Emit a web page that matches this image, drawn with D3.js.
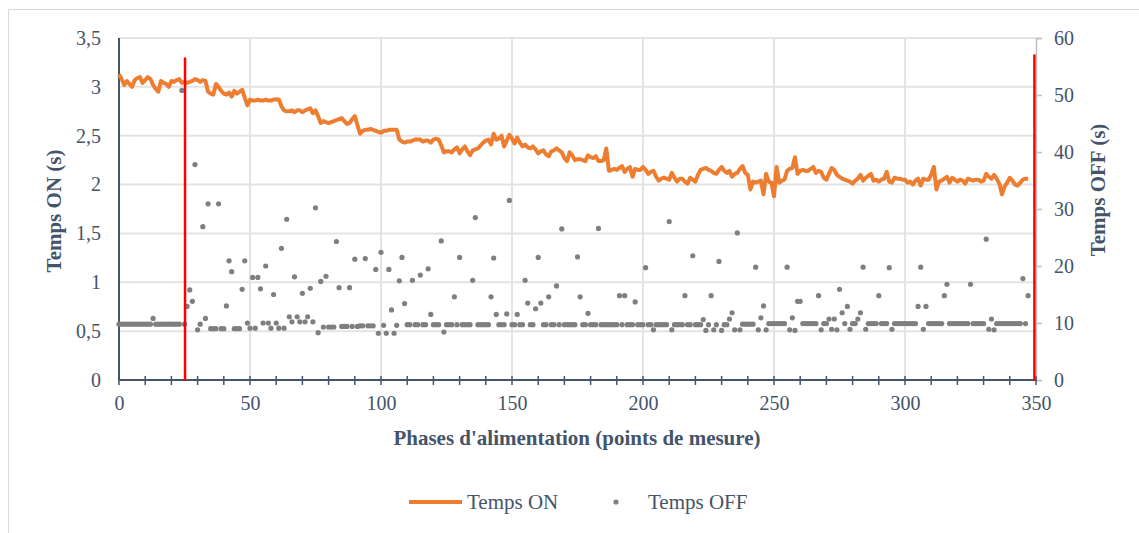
<!DOCTYPE html>
<html lang="fr">
<head>
<meta charset="UTF-8">
<title>Temps ON / Temps OFF</title>
<style>
    body { margin: 0; padding: 0; background: #fff; }
    svg text { font-family: "Liberation Serif", "Times New Roman", serif; fill: #44546A; }
</style>
</head>
<body>
<svg id="chart" width="1139" height="533"></svg>
<script src="https://d3js.org/d3.v7.min.js"></script>
<script>
// Temps ON (s), left axis, one value per feeding phase
var tempsOn = [
    3.13,3.08,3.02,3.06,3.03,3.00,3.07,3.09,3.10,3.04,
    3.07,3.10,3.08,3.02,2.98,2.95,3.06,3.04,3.03,3.00,
    3.06,3.05,3.07,3.08,3.04,3.05,3.04,3.05,3.06,3.08,
    3.07,3.05,3.07,3.06,2.95,2.93,2.92,3.03,3.00,2.96,
    2.93,2.92,2.94,2.90,2.96,2.93,2.95,2.97,2.89,2.81,
    2.87,2.86,2.86,2.87,2.86,2.86,2.87,2.86,2.86,2.87,
    2.87,2.87,2.80,2.76,2.75,2.75,2.76,2.74,2.76,2.76,
    2.74,2.76,2.77,2.78,2.73,2.76,2.70,2.63,2.65,2.64,
    2.63,2.64,2.65,2.66,2.67,2.68,2.65,2.62,2.63,2.67,
    2.70,2.61,2.52,2.55,2.56,2.56,2.57,2.56,2.55,2.54,
    2.53,2.55,2.55,2.56,2.56,2.56,2.56,2.46,2.44,2.43,
    2.44,2.44,2.45,2.46,2.46,2.46,2.44,2.45,2.45,2.43,
    2.46,2.47,2.46,2.40,2.33,2.34,2.34,2.33,2.36,2.38,
    2.32,2.36,2.39,2.34,2.30,2.35,2.36,2.37,2.40,2.43,
    2.45,2.46,2.41,2.52,2.46,2.47,2.50,2.39,2.45,2.51,
    2.47,2.42,2.48,2.43,2.39,2.41,2.38,2.37,2.39,2.36,
    2.32,2.34,2.35,2.31,2.29,2.34,2.35,2.37,2.35,2.33,
    2.27,2.24,2.33,2.30,2.25,2.26,2.26,2.25,2.24,2.30,
    2.28,2.27,2.29,2.24,2.24,2.25,2.37,2.14,2.15,2.16,
    2.15,2.17,2.19,2.13,2.16,2.18,2.08,2.16,2.15,2.15,
    2.18,2.15,2.11,2.13,2.14,2.08,2.04,2.06,2.07,2.06,
    2.05,2.12,2.07,2.03,2.06,2.06,2.03,2.01,2.07,2.05,
    2.03,2.10,2.15,2.16,2.17,2.15,2.14,2.12,2.11,2.15,
    2.18,2.14,2.12,2.14,2.08,2.11,2.12,2.16,2.19,2.12,
    2.10,1.95,2.03,2.02,2.03,2.04,1.90,2.11,2.03,2.02,
    1.88,2.18,2.02,2.04,2.05,2.14,2.16,2.17,2.28,2.11,
    2.14,2.15,2.14,2.14,2.16,2.18,2.12,2.14,2.13,2.07,
    2.05,2.11,2.17,2.15,2.10,2.08,2.06,2.05,2.04,2.03,
    2.01,2.04,2.06,2.10,2.04,2.07,2.09,2.11,2.04,2.05,
    2.03,2.05,2.06,2.13,2.03,2.02,2.07,2.06,2.06,2.05,
    2.05,2.02,2.03,2.00,2.04,2.06,1.99,2.06,2.05,2.05,
    2.10,2.18,1.95,2.03,2.04,2.06,2.08,2.02,2.07,2.05,
    2.03,2.05,2.04,2.01,2.06,2.05,2.04,2.05,2.05,2.03,
    2.04,2.11,2.08,2.06,2.10,2.06,2.01,1.90,1.98,2.02,
    2.07,2.04,2.00,1.99,2.02,2.05,2.06,2.06
];

// Temps OFF (s), right axis
var tempsOff = [
    9.8,9.8,9.8,9.8,9.8,9.8,9.8,9.8,9.8,9.8,
    9.8,9.8,9.8,10.8,9.8,9.8,9.8,9.8,9.8,9.8,
    9.8,9.8,9.8,9.8,50.8,9.8,12.9,15.8,13.8,37.8,
    8.8,9.8,26.9,10.8,30.9,9.0,9.0,9.0,30.9,9.0,
    9.0,13.0,20.9,19.0,9.0,9.0,9.0,15.9,20.9,10.0,
    9.1,18.0,9.1,18.0,16.0,10.0,20.0,10.0,9.1,15.0,
    10.0,9.1,23.1,9.1,28.2,11.1,10.2,18.1,11.1,10.2,
    15.2,10.2,11.1,16.1,10.2,30.2,8.3,17.3,9.3,18.2,
    9.3,9.3,9.3,24.3,16.2,9.4,9.4,9.4,16.2,9.4,
    21.2,9.4,9.5,9.5,21.3,9.5,9.5,9.5,19.4,8.2,
    22.4,9.6,8.2,19.4,12.3,8.2,9.6,17.4,21.5,13.4,
    9.7,9.7,17.5,9.7,9.7,18.4,9.7,9.7,19.5,11.5,
    9.7,9.7,9.7,24.4,8.4,9.7,9.7,9.7,14.6,9.7,
    21.5,9.7,9.7,9.7,9.7,17.5,28.5,9.7,9.7,9.7,
    9.7,9.7,14.6,21.4,11.5,9.7,9.7,9.7,11.6,31.5,
    9.7,9.7,11.5,9.7,9.7,17.5,13.5,9.7,9.7,12.5,
    21.5,13.5,9.7,9.7,14.6,9.7,9.7,16.5,9.7,26.5,
    9.7,9.7,9.7,9.7,9.7,21.6,14.6,9.7,9.7,11.7,
    9.7,9.7,9.7,26.6,9.7,9.7,9.7,9.7,9.7,9.7,
    9.7,14.8,9.7,14.8,9.7,9.7,9.7,13.7,9.7,9.7,
    9.7,19.7,9.7,9.7,8.8,9.7,9.7,9.7,9.7,9.7,
    27.8,8.8,9.7,9.7,9.7,9.7,14.8,9.7,9.7,21.8,
    9.7,9.7,9.7,10.6,8.7,9.7,14.8,8.8,9.7,20.8,
    8.7,9.7,9.7,10.7,11.8,8.8,25.8,8.8,9.8,9.8,
    9.8,9.8,9.8,19.8,8.8,10.9,13.0,8.8,9.9,9.9,
    9.9,9.9,9.9,9.9,9.9,19.8,8.8,10.9,8.7,13.8,
    13.8,9.9,9.9,9.9,9.9,9.9,9.9,14.8,8.8,9.9,
    9.9,10.7,8.9,10.7,8.8,15.9,11.8,9.9,12.9,8.9,
    9.9,9.9,10.7,11.8,19.8,8.9,9.9,9.9,9.9,9.9,
    14.8,9.9,9.9,9.9,19.7,8.9,9.9,9.9,9.9,9.9,
    9.9,9.9,9.9,9.9,9.9,12.9,19.8,8.9,12.9,9.9,
    9.9,9.9,9.9,9.9,9.9,14.8,16.8,9.9,9.9,9.9,
    9.9,9.9,9.9,9.9,9.9,16.8,9.9,9.9,9.9,9.9,
    9.9,24.7,8.9,10.7,8.8,9.9,9.9,9.9,9.9,9.9,
    9.9,9.9,9.9,9.9,9.9,17.8,9.9,14.8
];

// red separators: x position (phase) and top end (in Temps ON units)
var markerX = [25.2, 349.4];
var markerTop = [3.30, 3.33];

var xTicks = [0, 50, 100, 150, 200, 250, 300, 350];
var yLeftTicks = [0, 0.5, 1, 1.5, 2, 2.5, 3, 3.5];
var yRightTicks = [0, 10, 20, 30, 40, 50, 60];

var seriesNames = ["Temps ON", "Temps OFF"];

var svg = d3.select("#chart");

// outer frame
svg.append("rect")
    .attr("x", 8.5).attr("y", 9.5)
    .attr("width", 1140).attr("height", 530)
    .attr("fill", "none")
    .attr("stroke", "#d9d9d9");

var x = d3.scaleLinear().domain([0, 350]).range([119, 1036]);
var yL = d3.scaleLinear().domain([0, 3.5]).range([380, 38]);
var yR = d3.scaleLinear().domain([0, 60]).range([380, 38]);

// grid
svg.append("g").selectAll("line").data(yLeftTicks.slice(1)).enter()
    .append("line")
    .attr("x1", x(0)).attr("x2", x(350))
    .attr("y1", d => yL(d)).attr("y2", d => yL(d))
    .attr("stroke", "#e3e3e3").attr("stroke-width", 2);

svg.append("g").selectAll("line").data(xTicks.slice(1, -1)).enter()
    .append("line")
    .attr("x1", d => x(d)).attr("x2", d => x(d))
    .attr("y1", yL(0)).attr("y2", yL(3.5))
    .attr("stroke", "#e3e3e3").attr("stroke-width", 2);

// right axis (light grey line with outer ticks)
var rightAxis = svg.append("g")
    .attr("transform", "translate(" + x(350) + ",0)")
    .call(d3.axisRight(yR).tickValues(yRightTicks).tickSize(6).tickPadding(12));
rightAxis.select(".domain").attr("stroke", "#bfbfbf").attr("stroke-width", 1.5);
rightAxis.selectAll(".tick line").attr("stroke", "#bfbfbf").attr("stroke-width", 1.5);
rightAxis.selectAll("text").style("font-size", "20px").attr("fill", "#44546A")
    .style("font-family", "Liberation Serif");

// left axis labels
var leftAxis = svg.append("g")
    .attr("transform", "translate(" + x(0) + ",0)")
    .call(d3.axisLeft(yL).tickValues(yLeftTicks).tickSize(0).tickPadding(18)
        .tickFormat(d => String(d).replace(".", ",")));
leftAxis.select(".domain").remove();
leftAxis.selectAll("text").style("font-size", "20px").attr("fill", "#44546A")
    .style("font-family", "Liberation Serif");

// bottom axis: labels every 50, ticks every 10
var bottomAxis = svg.append("g")
    .attr("transform", "translate(0," + yL(0) + ")")
    .call(d3.axisBottom(x).tickValues(xTicks).tickSize(0).tickPadding(16));
bottomAxis.select(".domain").remove();
bottomAxis.selectAll("text").style("font-size", "20px").attr("fill", "#44546A")
    .style("font-family", "Liberation Serif");

svg.append("g").selectAll("line").data(d3.range(0, 351, 10)).enter()
    .append("line")
    .attr("x1", d => x(d)).attr("x2", d => x(d))
    .attr("y1", yL(0) - 4).attr("y2", yL(0) + 5)
    .attr("stroke", "#44546A").attr("stroke-width", 1.5);

// axis lines
svg.append("line")
    .attr("x1", x(0)).attr("x2", x(350))
    .attr("y1", yL(0)).attr("y2", yL(0))
    .attr("stroke", "#44546A").attr("stroke-width", 2);
svg.append("line")
    .attr("x1", x(0)).attr("x2", x(0))
    .attr("y1", yL(0)).attr("y2", yL(3.5))
    .attr("stroke", "#44546A").attr("stroke-width", 2);

// Temps OFF dots
svg.append("g").selectAll("circle").data(tempsOff).enter()
    .append("circle")
    .attr("cx", (d, i) => x(i))
    .attr("cy", d => yR(d))
    .attr("r", 2.6)
    .attr("fill", "#7f7f7f");

// Temps ON line
var line = d3.line()
    .x((d, i) => x(i))
    .y(d => yL(d));
svg.append("path")
    .datum(tempsOn)
    .attr("d", line)
    .attr("fill", "none")
    .attr("stroke", "#ED7D31")
    .attr("stroke-width", 4)
    .attr("stroke-linejoin", "round");

// red vertical markers
svg.append("g").selectAll("line").data(markerX).enter()
    .append("line")
    .attr("x1", d => x(d)).attr("x2", d => x(d))
    .attr("y1", (d, i) => yL(markerTop[i]))
    .attr("y2", yL(0) + 1)
    .attr("stroke", "#ff0000")
    .attr("stroke-width", 2.5);

// axis titles
svg.append("text")
    .attr("transform", "translate(61,211) rotate(-90)")
    .attr("text-anchor", "middle")
    .style("font-size", "21px").style("font-weight", "bold")
    .text("Temps ON (s)");

svg.append("text")
    .attr("transform", "translate(1105,190) rotate(-90)")
    .attr("text-anchor", "middle")
    .style("font-size", "21px").style("font-weight", "bold")
    .text("Temps OFF (s)");

svg.append("text")
    .attr("x", 577).attr("y", 445)
    .attr("text-anchor", "middle")
    .style("font-size", "21px").style("font-weight", "bold")
    .text("Phases d'alimentation (points de mesure)");

// legend
var legend = svg.append("g");
legend.append("line")
    .attr("x1", 409).attr("x2", 462)
    .attr("y1", 502).attr("y2", 502)
    .attr("stroke", "#ED7D31").attr("stroke-width", 4);
legend.append("text")
    .attr("x", 467).attr("y", 509)
    .style("font-size", "21px")
    .text(seriesNames[0]);
legend.append("circle")
    .attr("cx", 616).attr("cy", 502).attr("r", 2.6)
    .attr("fill", "#7f7f7f");
legend.append("text")
    .attr("x", 648).attr("y", 509)
    .style("font-size", "21px")
    .text(seriesNames[1]);
</script>
</body>
</html>
